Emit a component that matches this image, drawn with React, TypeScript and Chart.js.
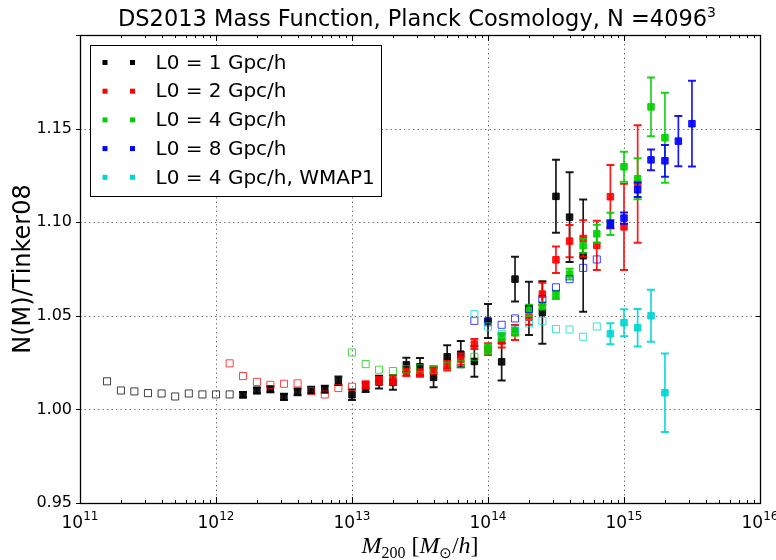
import React, { useEffect, useRef } from "react";
import { Chart, registerables } from "chart.js";

Chart.register(...registerables);

const SANS = '"DejaVu Sans", sans-serif';
const SERIF = '"Liberation Serif", "DejaVu Serif", serif';

// ---- axis ticks ----
const xDecades = [1e11, 1e12, 1e13, 1e14, 1e15, 1e16];
const xDecadeExponents = ["11", "12", "13", "14", "15", "16"];
const yTickValues = [0.95, 1.0, 1.05, 1.1, 1.15, 1.2];

// ---- L0 = 1 Gpc/h (black) ----
const blackOpenMass = [1.58e11, 2.0e11, 2.51e11, 3.16e11, 3.98e11, 5.01e11, 6.31e11, 7.94e11, 1.0e12, 1.26e12];
const blackOpenRatio = [1.015, 1.0101, 1.0096, 1.0087, 1.0085, 1.0069, 1.0085, 1.008, 1.008, 1.008];
const blackMass = [1.58e12, 2.0e12, 2.51e12, 3.16e12, 3.98e12, 5.01e12, 6.31e12, 7.94e12, 1.0e13, 1.26e13, 1.58e13, 2.0e13, 2.51e13, 3.16e13, 3.98e13, 5.01e13, 6.31e13, 7.94e13, 1.0e14, 1.26e14, 1.58e14, 2.0e14, 2.51e14, 3.16e14, 3.98e14, 5.01e14];
const blackRatio = [1.0078, 1.0101, 1.0107, 1.0067, 1.0094, 1.0103, 1.0108, 1.0153, 1.0078, 1.0118, 1.0146, 1.0144, 1.0238, 1.0228, 1.0171, 1.0281, 1.0295, 1.0256, 1.0472, 1.0254, 1.0696, 1.054, 1.0518, 1.1138, 1.1027, 1.0821];
const blackErr = [0.0015, 0.0016, 0.0016, 0.0017, 0.0018, 0.0018, 0.0019, 0.0023, 0.0028, 0.0025, 0.0034, 0.0039, 0.0038, 0.0046, 0.0053, 0.0062, 0.007, 0.0082, 0.0091, 0.01, 0.0119, 0.0142, 0.0167, 0.0195, 0.024, 0.03];

// ---- L0 = 2 Gpc/h (red) ----
const redOpenMass = [1.26e12, 1.58e12, 2.0e12, 2.51e12, 3.16e12, 3.98e12, 5.01e12, 6.31e12, 7.94e12, 1.0e13];
const redOpenRatio = [1.0246, 1.0178, 1.0147, 1.0131, 1.0137, 1.0139, 1.0098, 1.008, 1.0114, 1.0121];
const redMass = [1.26e13, 1.58e13, 2.0e13, 2.51e13, 3.16e13, 3.98e13, 5.01e13, 6.31e13, 7.94e13, 1.0e14, 1.26e14, 1.58e14, 2.0e14, 2.51e14, 3.16e14, 3.98e14, 5.01e14, 6.31e14, 7.94e14, 1.0e15, 1.26e15];
const redRatio = [1.0131, 1.0153, 1.0157, 1.0198, 1.0194, 1.021, 1.0233, 1.0269, 1.0349, 1.0322, 1.0366, 1.0411, 1.0491, 1.0616, 1.0799, 1.0899, 1.0913, 1.0876, 1.1136, 1.0975, 1.1204];
const redErr = [0.002, 0.002, 0.0025, 0.002, 0.002, 0.002, 0.0025, 0.003, 0.0027, 0.0032, 0.0036, 0.004, 0.0039, 0.006, 0.0071, 0.0086, 0.0098, 0.0132, 0.017, 0.023, 0.0314];

// ---- L0 = 4 Gpc/h (green) ----
const greenOpenMass = [1.0e13, 1.26e13, 1.58e13, 2.0e13, 2.51e13, 3.16e13, 3.98e13, 5.01e13, 6.31e13, 7.94e13];
const greenOpenRatio = [1.0304, 1.0242, 1.0212, 1.0205, 1.0215, 1.022, 1.021, 1.0232, 1.0242, 1.0281];
const greenMass = [1.0e14, 1.26e14, 1.58e14, 2.0e14, 2.51e14, 3.16e14, 3.98e14, 5.01e14, 6.31e14, 7.94e14, 1.0e15, 1.26e15, 1.58e15, 2.0e15];
const greenRatio = [1.0322, 1.0388, 1.0415, 1.0529, 1.0553, 1.0612, 1.0723, 1.0874, 1.0938, 1.0991, 1.1296, 1.1232, 1.1616, 1.1451];
const greenErr = [0.0025, 0.002, 0.002, 0.003, 0.002, 0.0022, 0.0029, 0.0037, 0.0048, 0.006, 0.008, 0.011, 0.0157, 0.024];

// ---- L0 = 8 Gpc/h (blue) ----
const blueOpenMass = [7.94e13, 1.0e14, 1.26e14, 1.58e14, 2.0e14, 2.51e14, 3.16e14, 3.98e14, 5.01e14, 6.31e14];
const blueOpenRatio = [1.0473, 1.0465, 1.0452, 1.0486, 1.0536, 1.0589, 1.0652, 1.0696, 1.0756, 1.0801];
const blueMass = [7.94e14, 1.0e15, 1.26e15, 1.58e15, 2.0e15, 2.51e15, 3.16e15];
const blueRatio = [1.0991, 1.1022, 1.1173, 1.1333, 1.1328, 1.1433, 1.1526];
const blueErr = [0.002, 0.003, 0.0039, 0.0056, 0.0085, 0.0134, 0.0229];

// ---- L0 = 4 Gpc/h, WMAP1 (cyan) ----
const cyanOpenMass = [7.94e13, 1.0e14, 1.26e14, 1.58e14, 2.0e14, 2.51e14, 3.16e14, 3.98e14, 5.01e14, 6.31e14];
const cyanOpenRatio = [1.0509, 1.0443, 1.0402, 1.0425, 1.0459, 1.0473, 1.0429, 1.0427, 1.0388, 1.0443];
const cyanMass = [7.94e14, 1.0e15, 1.26e15, 1.58e15, 2.0e15];
const cyanRatio = [1.0404, 1.0463, 1.0436, 1.05, 1.0089];
const cyanErr = [0.0056, 0.0072, 0.01, 0.0139, 0.021];

const seriesLabels = ["L0 = 1 Gpc/h", "L0 = 2 Gpc/h", "L0 = 4 Gpc/h", "L0 = 8 Gpc/h", "L0 = 4 Gpc/h, WMAP1"];
const seriesRGB = ["0,0,0", "255,0,0", "0,208,0", "0,0,255", "0,213,213"];

const openMasses = [blackOpenMass, redOpenMass, greenOpenMass, blueOpenMass, cyanOpenMass];
const openRatios = [blackOpenRatio, redOpenRatio, greenOpenRatio, blueOpenRatio, cyanOpenRatio];
const masses = [blackMass, redMass, greenMass, blueMass, cyanMass];
const ratios = [blackRatio, redRatio, greenRatio, blueRatio, cyanRatio];
const errors = [blackErr, redErr, greenErr, blueErr, cyanErr];

type Seg = { t: string; font: string; dy?: number };

function drawSegs(ctx: CanvasRenderingContext2D, segs: Seg[], cx: number, baseline: number) {
  let total = 0;
  for (const s of segs) {
    ctx.font = s.font;
    total += ctx.measureText(s.t).width;
  }
  let x = cx - total / 2;
  ctx.textAlign = "left";
  ctx.textBaseline = "alphabetic";
  for (const s of segs) {
    ctx.font = s.font;
    ctx.fillText(s.t, x, baseline + (s.dy || 0));
    x += ctx.measureText(s.t).width;
  }
}

const decorPlugin = {
  id: "decor",
  beforeDatasetsDraw(chart: any) {
    const { ctx, chartArea, scales } = chart;
    const { left, right, top, bottom } = chartArea;
    ctx.save();
    ctx.strokeStyle = "#7a7a7a";
    ctx.lineWidth = 1;
    ctx.setLineDash([1.5, 3]);
    for (const v of xDecades.slice(1, -1)) {
      const px = Math.round(scales.x.getPixelForValue(v)) + 0.5;
      ctx.beginPath();
      ctx.moveTo(px, top);
      ctx.lineTo(px, bottom);
      ctx.stroke();
    }
    for (const v of yTickValues.slice(1, -1)) {
      const py = Math.round(scales.y.getPixelForValue(v)) + 0.5;
      ctx.beginPath();
      ctx.moveTo(left, py);
      ctx.lineTo(right, py);
      ctx.stroke();
    }
    ctx.restore();
  },
  beforeDatasetDraw(chart: any, args: any) {
    const ds: any = chart.data.datasets[args.index];
    if (!ds.errors) return;
    const { ctx, scales } = chart;
    ctx.save();
    ctx.strokeStyle = ds.errColor;
    ds.data.forEach((p: any, i: number) => {
      const e = ds.errors[i];
      const px = scales.x.getPixelForValue(p.x);
      const y1 = scales.y.getPixelForValue(p.y + e);
      const y2 = scales.y.getPixelForValue(p.y - e);
      ctx.lineWidth = 1.7;
      ctx.beginPath();
      ctx.moveTo(px, y1);
      ctx.lineTo(px, y2);
      ctx.stroke();
      ctx.lineWidth = 2;
      ctx.beginPath();
      ctx.moveTo(px - 4, y1);
      ctx.lineTo(px + 4, y1);
      ctx.moveTo(px - 4, y2);
      ctx.lineTo(px + 4, y2);
      ctx.stroke();
    });
    ctx.restore();
  },
  afterDatasetsDraw(chart: any) {
    const { ctx, chartArea, scales } = chart;
    const { left, right, top, bottom } = chartArea;
    ctx.save();
    ctx.strokeStyle = "#000";
    ctx.lineWidth = 1;
    // minor and major x ticks (inside, top and bottom)
    for (let d = 0; d < xDecades.length; d++) {
      const base = xDecades[d];
      for (let k = 1; k <= 9; k++) {
        if (d === xDecades.length - 1 && k > 1) break;
        const v = base * k;
        const px = Math.round(scales.x.getPixelForValue(v)) + 0.5;
        const len = k === 1 ? 6 : 3;
        ctx.beginPath();
        ctx.moveTo(px, bottom);
        ctx.lineTo(px, bottom - len);
        ctx.moveTo(px, top);
        ctx.lineTo(px, top + len);
        ctx.stroke();
      }
    }
    // y ticks
    for (const v of yTickValues) {
      const py = Math.round(scales.y.getPixelForValue(v)) + 0.5;
      ctx.beginPath();
      ctx.moveTo(left - 4, py);
      ctx.lineTo(left, py);
      ctx.moveTo(right, py);
      ctx.lineTo(right - 4, py);
      ctx.stroke();
    }
    // frame
    ctx.lineWidth = 1.3;
    ctx.strokeRect(Math.round(left) + 0.5, Math.round(top) + 0.5, Math.round(right - left), Math.round(bottom - top));
    ctx.restore();
  },
  afterDraw(chart: any) {
    const { ctx, chartArea, scales } = chart;
    const { left, right, top, bottom } = chartArea;
    ctx.save();
    // x tick labels 10^n
    ctx.fillStyle = "#000";
    xDecades.forEach((v, i) => {
      const px = scales.x.getPixelForValue(v);
      drawSegs(
        ctx,
        [
          { t: "10", font: `17px ${SANS}` },
          { t: xDecadeExponents[i], font: `12px ${SANS}`, dy: -8 },
        ],
        px,
        bottom + 25
      );
    });
    // legend
    const lx = Math.round(left + 10) + 0.5;
    const ly = Math.round(top + 10) + 0.5;
    const lw = 291;
    const lh = 151;
    ctx.fillStyle = "#fff";
    ctx.fillRect(lx, ly, lw, lh);
    ctx.strokeStyle = "#000";
    ctx.lineWidth = 1;
    ctx.strokeRect(lx, ly, lw, lh);
    ctx.font = `20px ${SANS}`;
    ctx.textAlign = "left";
    ctx.textBaseline = "middle";
    seriesLabels.forEach((label, i) => {
      const cy = ly + 17 + i * 28.7;
      ctx.fillStyle = `rgb(${seriesRGB[i]})`;
      for (const mx of [lx + 14.5, lx + 42]) {
        ctx.fillRect(mx - 2.5, cy - 2.5, 5, 5);
      }
      ctx.fillStyle = "#000";
      ctx.fillText(label, lx + 65, cy + 1);
    });
    // title
    ctx.fillStyle = "#000";
    drawSegs(
      ctx,
      [
        { t: "DS2013 Mass Function, Planck Cosmology, N =4096", font: `22.5px ${SANS}` },
        { t: "3", font: `14px ${SANS}`, dy: -9 },
      ],
      (left + right) / 2 - 3,
      26
    );
    // x axis title
    drawSegs(
      ctx,
      [
        { t: "M", font: `italic 24px ${SERIF}` },
        { t: "200", font: `16px ${SERIF}`, dy: 5 },
        { t: " [", font: `24px ${SERIF}` },
        { t: "M", font: `italic 24px ${SERIF}` },
        { t: "⊙", font: `15px ${SANS}`, dy: 5 },
        { t: "/", font: `24px ${SERIF}` },
        { t: "h", font: `italic 24px ${SERIF}` },
        { t: "]", font: `24px ${SERIF}` },
      ],
      (left + right) / 2,
      553
    );
    // y axis title
    ctx.translate(24, (top + bottom) / 2);
    ctx.rotate(-Math.PI / 2);
    ctx.font = `24px ${SANS}`;
    ctx.textAlign = "center";
    ctx.textBaseline = "middle";
    ctx.fillText("N(M)/Tinker08", 0, 0);
    ctx.restore();
  },
};

export default function App() {
  const ref = useRef<HTMLCanvasElement>(null);
  useEffect(() => {
    if (!ref.current) return;
    const datasets: any[] = [];
    seriesLabels.forEach((label, i) => {
      const rgb = seriesRGB[i];
      datasets.push({
        label: label + " (open)",
        data: openMasses[i].map((m, j) => ({ x: m, y: openRatios[i][j] })),
        pointStyle: "rect",
        pointRadius: 5,
        borderWidth: 1,
        borderColor: `rgba(${rgb},0.75)`,
        backgroundColor: "rgba(0,0,0,0)",
        showLine: false,
        order: 10 - i * 2,
      });
      datasets.push({
        label,
        data: masses[i].map((m, j) => ({ x: m, y: ratios[i][j] })),
        errors: errors[i],
        errColor: `rgba(${rgb},0.9)`,
        pointStyle: "rect",
        pointRadius: 4.6,
        borderWidth: 1,
        borderColor: `rgba(${rgb},0.9)`,
        backgroundColor: `rgba(${rgb},0.9)`,
        showLine: false,
        order: 9 - i * 2,
      });
    });
    const chart = new Chart(ref.current, {
      type: "scatter",
      data: { datasets },
      plugins: [decorPlugin as any],
      options: {
        animation: false,
        responsive: true,
        maintainAspectRatio: false,
        events: [],
        layout: { padding: { top: 35, right: 16, left: 0, bottom: 0 } },
        plugins: { legend: { display: false }, tooltip: { enabled: false }, title: { display: false } },
        scales: {
          x: {
            type: "logarithmic",
            min: 1e11,
            max: 1e16,
            grid: { display: false, drawTicks: false },
            border: { display: false },
            afterBuildTicks: (s: any) => {
              s.ticks = xDecades.map((v) => ({ value: v, major: true }));
            },
            afterFit: (s: any) => {
              s.height = 57;
              s.paddingLeft = 0;
              s.paddingRight = 0;
            },
            ticks: { display: false },
          },
          y: {
            type: "linear",
            min: 0.95,
            max: 1.2,
            grid: { display: false, drawTicks: false },
            border: { display: false },
            afterBuildTicks: (s: any) => {
              s.ticks = yTickValues.map((v) => ({ value: v }));
            },
            afterFit: (s: any) => {
              s.width = 80;
              s.paddingTop = 0;
              s.paddingBottom = 0;
            },
            ticks: {
              padding: 8,
              color: "#000",
              font: { family: SANS, size: 16 },
              callback: (v: any) => (Math.abs(Number(v) - 1.2) < 1e-9 ? "" : Number(v).toFixed(2)),
            },
          },
        },
      } as any,
    });
    return () => chart.destroy();
  }, []);
  return (
    <div style={{ position: "absolute", left: 0, top: 0, width: 776, height: 560, background: "#fff" }}>
      <canvas ref={ref} style={{ width: 776, height: 560 }} />
    </div>
  );
}
